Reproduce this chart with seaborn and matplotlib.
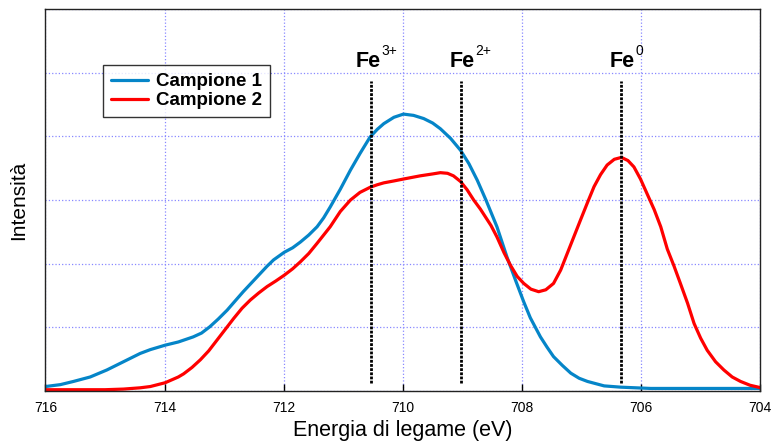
import matplotlib
matplotlib.use("Agg")
import matplotlib.pyplot as plt
import seaborn as sns

# Campione 1 (energia in eV, intensita in unita arbitrarie)
energy_1 = [716.0, 715.75, 715.53, 715.25, 714.97, 714.69, 714.41, 714.24, 713.99, 713.77,
            713.52, 713.38, 713.24, 713.10, 712.95, 712.82, 712.68, 712.53, 712.39, 712.28,
            712.17, 711.99, 711.85, 711.72, 711.58, 711.44, 711.33, 711.22, 711.05, 710.88,
            710.72, 710.55, 710.43, 710.32, 710.15, 709.99, 709.82, 709.65, 709.50, 709.37,
            709.20, 709.03, 708.89, 708.75, 708.60, 708.42, 708.25, 708.10, 707.97, 707.86,
            707.69, 707.58, 707.47, 707.32, 707.18, 707.04, 706.90, 706.62, 706.34, 705.84,
            705.0, 704.0]
intens_1 = [0.07, 0.10, 0.15, 0.22, 0.33, 0.46, 0.59, 0.65, 0.72, 0.77,
            0.85, 0.91, 1.01, 1.13, 1.27, 1.41, 1.56, 1.71, 1.85, 1.96,
            2.06, 2.18, 2.25, 2.34, 2.45, 2.58, 2.72, 2.89, 3.17, 3.47,
            3.73, 3.99, 4.11, 4.20, 4.30, 4.35, 4.33, 4.28, 4.21, 4.12,
            3.97, 3.78, 3.57, 3.31, 2.99, 2.58, 2.10, 1.72, 1.40, 1.15,
            0.85, 0.69, 0.54, 0.40, 0.28, 0.20, 0.15, 0.08, 0.06, 0.04,
            0.04, 0.04]

# Campione 2
energy_2 = [716.0, 715.5, 715.0, 714.69, 714.41, 714.24, 713.99, 713.77, 713.68, 713.54,
            713.40, 713.26, 713.12, 712.98, 712.84, 712.70, 712.56, 712.42, 712.28, 712.13,
            711.99, 711.85, 711.72, 711.58, 711.44, 711.33, 711.22, 711.05, 710.88, 710.72,
            710.55, 710.43, 710.32, 710.15, 709.99, 709.71, 709.50, 709.37, 709.25, 709.15,
            709.03, 708.92, 708.81, 708.70, 708.52, 708.42, 708.30, 708.19, 708.08, 707.97,
            707.85, 707.72, 707.60, 707.47, 707.35, 707.24, 707.13, 707.02, 706.90, 706.79,
            706.68, 706.57, 706.45, 706.33, 706.22, 706.12, 706.01, 705.90, 705.78, 705.67,
            705.56, 705.45, 705.34, 705.22, 705.11, 705.00, 704.89, 704.75, 704.61, 704.47,
            704.33, 704.17, 704.03, 704.0]
intens_2 = [0.02, 0.02, 0.02, 0.03, 0.05, 0.07, 0.13, 0.22, 0.27, 0.37,
            0.49, 0.63, 0.80, 0.97, 1.14, 1.30, 1.43, 1.54, 1.64, 1.73,
            1.82, 1.92, 2.03, 2.16, 2.32, 2.45, 2.58, 2.82, 3.00, 3.12,
            3.20, 3.24, 3.27, 3.30, 3.33, 3.38, 3.41, 3.43, 3.42, 3.38,
            3.29, 3.16, 3.00, 2.86, 2.60, 2.42, 2.17, 1.97, 1.80, 1.69,
            1.60, 1.56, 1.59, 1.69, 1.90, 2.16, 2.42, 2.68, 2.96, 3.21,
            3.40, 3.55, 3.64, 3.67, 3.62, 3.52, 3.33, 3.10, 2.85, 2.58,
            2.23, 1.97, 1.69, 1.38, 1.06, 0.83, 0.64, 0.46, 0.33, 0.22,
            0.15, 0.09, 0.06, 0.05]

# linee di riferimento
ref_energy = [710.53, 709.03, 706.33]
label_energy = [710.59, 709.01, 706.32]
ref_labels = ["Fe", "Fe", "Fe"]
ref_sup = ["3+", "2+", "0"]
ref_top = 4.87
ref_bottom = 0.13
label_y = 5.09

x_ticks = [716, 714, 712, 710, 708, 706, 704]

sns.set_style("white")
plt.rcParams['font.family'] = ['Liberation Sans', 'DejaVu Sans']
plt.rcParams['text.color'] = 'black'
plt.rcParams['axes.labelcolor'] = 'black'

fig = plt.figure(figsize=(7.71, 4.41), dpi=100)
ax = fig.add_axes([0.059, 0.1134, 0.927, 0.866])

ax.grid(True, color='#8888ff', linestyle=':', linewidth=0.9)
ax.set_axisbelow(True)

sns.lineplot(x=energy_1, y=intens_1, ax=ax, color='#0585c8', linewidth=2.3,
             label='Campione 1', sort=False, solid_joinstyle='round')
sns.lineplot(x=energy_2, y=intens_2, ax=ax, color='#ff0000', linewidth=2.3,
             label='Campione 2', sort=False, solid_joinstyle='round')

ax.vlines(ref_energy, ref_bottom, ref_top, colors='black',
          linestyles=[(0, (1, 0.5))], linewidth=2.0)
for xl, lab, sup in zip(label_energy, ref_labels, ref_sup):
    ax.annotate(lab, (xl, label_y), ha='center', va='baseline', fontsize=15.5,
                fontweight='bold')
    ax.annotate(sup, (xl, label_y), xytext=(9.7, 8.6), textcoords='offset points',
                ha='left', va='baseline', fontsize=10)

ax.set_xlim(716, 704)
ax.set_ylim(0, 6)
ax.set_xticks(x_ticks)
ax.set_xticklabels([str(t) for t in x_ticks])
ax.set_yticks(range(7))
ax.set_yticklabels([])
ax.tick_params(axis='x', direction='in', length=5, width=1, labelsize=10, pad=7,
               colors='black', bottom=True)
ax.tick_params(axis='y', length=0)
for s in ax.spines.values():
    s.set_color('#222222')
    s.set_linewidth(1)

ax.set_xlabel('Energia di legame (eV)', fontsize=15.5, labelpad=4)
ax.set_ylabel('Intensità', fontsize=15, labelpad=9)

leg = ax.legend(loc='upper left', bbox_to_anchor=(0.080, 0.853), borderaxespad=0,
                fancybox=False, frameon=True, edgecolor='black',
                prop={'weight': 'bold', 'size': 13.5}, handlelength=2.0,
                handletextpad=0.45, borderpad=0.42, labelspacing=0.1)
leg.get_frame().set_linewidth(1)

fig.savefig('out.png', dpi=100)
